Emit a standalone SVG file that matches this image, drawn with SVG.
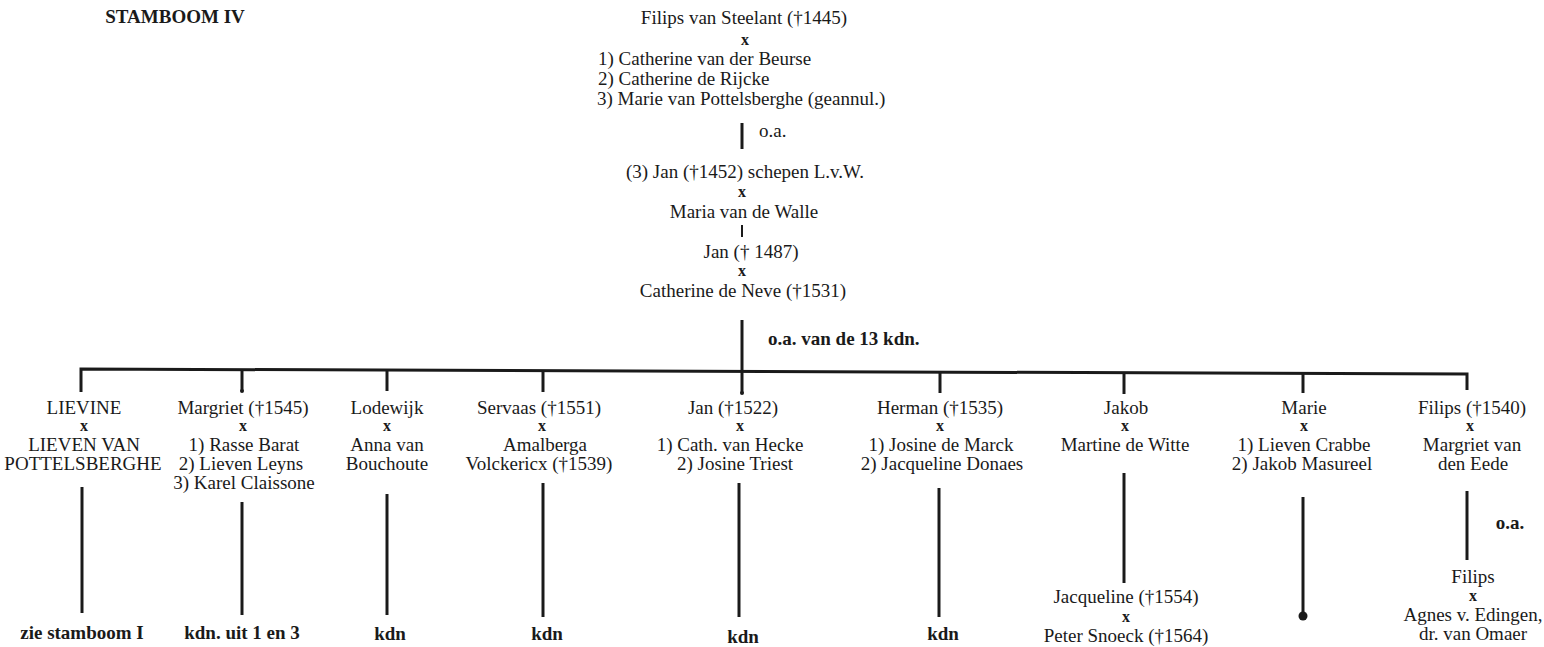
<svg xmlns="http://www.w3.org/2000/svg" width="1544" height="647" viewBox="0 0 1544 647">
<style>
text{font-family:"Liberation Serif","Times New Roman",serif;font-size:19px;fill:#1a1a1a;text-anchor:middle}
.b{font-weight:bold}
.s{text-anchor:start}
.x{font-weight:bold;font-size:16px}
.ln{stroke:#1a1a1a;stroke-width:3;fill:none;stroke-linecap:butt}
.thin{stroke-width:2}
</style>
<rect width="1544" height="647" fill="#ffffff"/>
<g id="title"><text class="b" x="175" y="23">STAMBOOM IV</text></g>
<g id="connectors">
<line class="ln" x1="742" y1="123" x2="742" y2="149"/>
<line class="ln thin" x1="742" y1="225" x2="742" y2="237"/>
<line class="ln" x1="742" y1="320" x2="742" y2="393"/>
<path class="ln" d="M81,392 L81,369 L1467,374 L1467,390"/>
<line class="ln" x1="242" y1="370" x2="242" y2="391"/>
<line class="ln" x1="387" y1="370" x2="387" y2="391"/>
<line class="ln" x1="543" y1="371" x2="543" y2="392"/>
<line class="ln" x1="940" y1="373" x2="940" y2="393"/>
<line class="ln" x1="1124" y1="373" x2="1124" y2="394"/>
<line class="ln" x1="1303" y1="374" x2="1303" y2="393"/>
<circle cx="242" cy="391" r="2" fill="#1a1a1a"/>
<circle cx="742" cy="393" r="2" fill="#1a1a1a"/>
<line class="ln" x1="82" y1="487" x2="82" y2="613"/>
<line class="ln" x1="242" y1="502" x2="242" y2="615"/>
<line class="ln" x1="387" y1="494" x2="387" y2="615"/>
<line class="ln" x1="543" y1="483" x2="543" y2="617"/>
<line class="ln" x1="739" y1="483" x2="739" y2="617"/>
<line class="ln" x1="939" y1="488" x2="939" y2="617"/>
<line class="ln" x1="1124" y1="473" x2="1124" y2="583"/>
<line class="ln" x1="1303" y1="497" x2="1303" y2="614"/>
<circle cx="1303" cy="616" r="4.5" fill="#1a1a1a"/>
<line class="ln" x1="1467" y1="491" x2="1467" y2="560"/>
</g>
<g id="node-filips-van-steelant">
<text x="744" y="24">Filips van Steelant (†1445)</text>
<text class="x" x="745" y="45">x</text>
<text class="s" x="598" y="65">1) Catherine van der Beurse</text>
<text class="s" x="598" y="85">2) Catherine de Rijcke</text>
<text class="s" x="597" y="105">3) Marie van Pottelsberghe (geannul.)</text>
</g>
<g id="label-oa-top"><text class="s" x="759" y="137">o.a.</text></g>
<g id="node-jan-1452">
<text x="745" y="178">(3) Jan (†1452) schepen L.v.W.</text>
<text class="x" x="742" y="197">x</text>
<text x="744" y="218">Maria van de Walle</text>
</g>
<g id="node-jan-1487">
<text x="751" y="258">Jan († 1487)</text>
<text class="x" x="742" y="276">x</text>
<text x="743" y="297">Catherine de Neve (†1531)</text>
</g>
<g id="label-13kdn"><text class="b s" x="768" y="345">o.a. van de 13 kdn.</text></g>
<g id="node-lievine">
<text x="84" y="414">LIEVINE</text>
<text class="x" x="84" y="431">x</text>
<text x="84" y="451">LIEVEN VAN</text>
<text x="83" y="470">POTTELSBERGHE</text>
<text class="b" x="82" y="639">zie stamboom I</text>
</g>
<g id="node-margriet">
<text x="243" y="414">Margriet (†1545)</text>
<text class="x" x="243" y="431">x</text>
<text x="244" y="451">1) Rasse Barat</text>
<text x="241" y="470">2) Lieven Leyns</text>
<text x="244" y="489">3) Karel Claissone</text>
<text class="b" x="242" y="639">kdn. uit 1 en 3</text>
</g>
<g id="node-lodewijk">
<text x="387" y="414">Lodewijk</text>
<text class="x" x="387" y="431">x</text>
<text x="387" y="451">Anna van</text>
<text x="387" y="470">Bouchoute</text>
<text class="b" x="390" y="640">kdn</text>
</g>
<g id="node-servaas">
<text x="539" y="414">Servaas (†1551)</text>
<text class="x" x="542" y="431">x</text>
<text x="545" y="451">Amalberga</text>
<text x="539" y="470">Volckericx (†1539)</text>
<text class="b" x="547" y="640">kdn</text>
</g>
<g id="node-jan-1522">
<text x="733" y="414">Jan (†1522)</text>
<text class="x" x="740" y="431">x</text>
<text x="730" y="451">1) Cath. van Hecke</text>
<text x="735" y="470">2) Josine Triest</text>
<text class="b" x="743" y="643">kdn</text>
</g>
<g id="node-herman">
<text x="940" y="414">Herman (†1535)</text>
<text class="x" x="940" y="431">x</text>
<text x="941" y="451">1) Josine de Marck</text>
<text x="942" y="470">2) Jacqueline Donaes</text>
<text class="b" x="943" y="640">kdn</text>
</g>
<g id="node-jakob">
<text x="1126" y="414">Jakob</text>
<text class="x" x="1125" y="431">x</text>
<text x="1125" y="451">Martine de Witte</text>
</g>
<g id="node-jacqueline">
<text x="1126" y="603">Jacqueline (†1554)</text>
<text class="x" x="1126" y="622">x</text>
<text x="1126" y="642">Peter Snoeck (†1564)</text>
</g>
<g id="node-marie">
<text x="1304" y="414">Marie</text>
<text class="x" x="1304" y="431">x</text>
<text x="1304" y="451">1) Lieven Crabbe</text>
<text x="1302" y="470">2) Jakob Masureel</text>
</g>
<g id="node-filips-1540">
<text x="1472" y="414">Filips (†1540)</text>
<text class="x" x="1470" y="431">x</text>
<text x="1472" y="451">Margriet van</text>
<text x="1473" y="470">den Eede</text>
</g>
<g id="label-oa-right"><text class="b" x="1510" y="529">o.a.</text></g>
<g id="node-filips-lower">
<text x="1473" y="583">Filips</text>
<text class="x" x="1473" y="601">x</text>
<text x="1473" y="621">Agnes v. Edingen,</text>
<text x="1473" y="640">dr. van Omaer</text>
</g>
</svg>
